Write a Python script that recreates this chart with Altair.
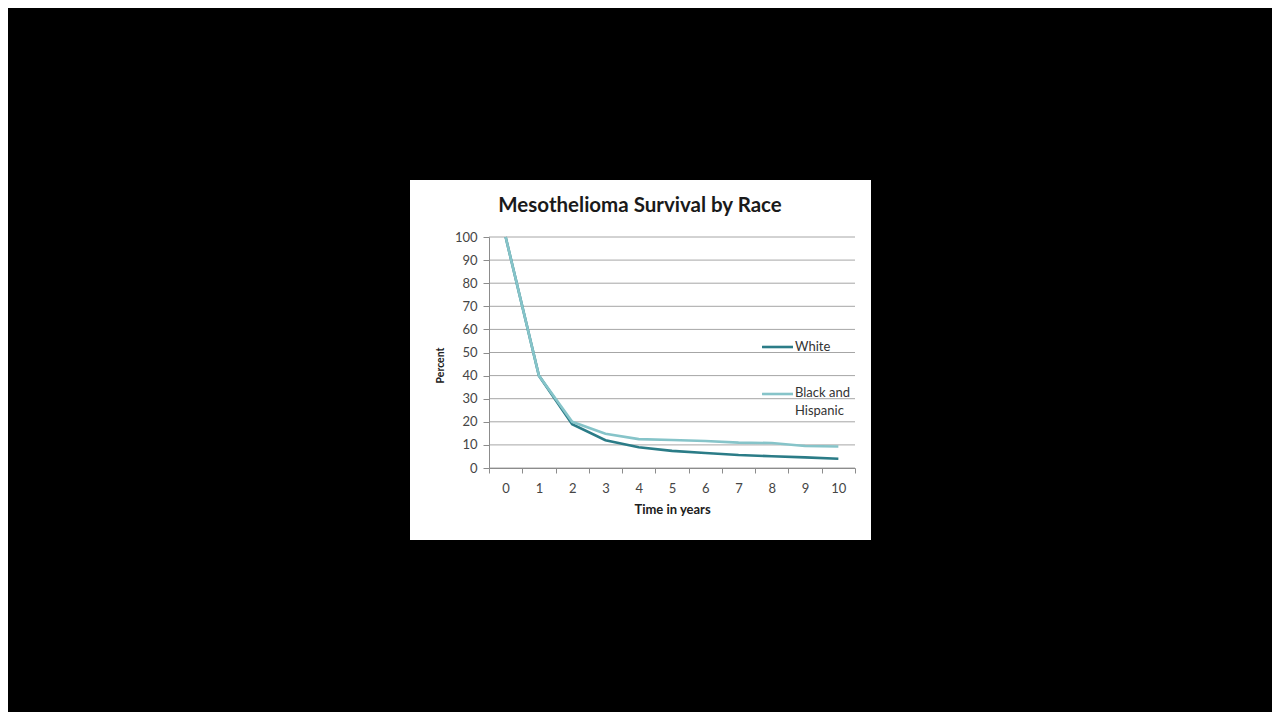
import altair as alt
import pandas as pd

years = list(range(11))
white = [100, 40, 19, 12, 9, 7.4, 6.5, 5.6, 5.1, 4.6, 4]
black_hispanic = [100, 40, 20, 14.8, 12.5, 12.1, 11.7, 11, 10.8, 9.5, 9.3]
series_names = ["White", "Black and Hispanic"]
series_colors = ["#2b7c87", "#86c4c9"]
grid_values = list(range(0, 101, 10))
title_text = "Mesothelioma Survival by Race"

FONT = "Lato"
W, H = 366, 231

df = pd.DataFrame({
    "year": years * 2,
    "pct": white + black_hispanic,
    "series": [series_names[0]] * len(years) + [series_names[1]] * len(years),
})
grid_df = pd.DataFrame({"pct": grid_values})
one = pd.DataFrame({"a": [0]})

yscale = alt.Scale(domain=[0, 100], nice=False)
xscale = alt.Scale(type="band", paddingInner=0, paddingOuter=0)
cscale = alt.Scale(domain=series_names, range=series_colors)

yaxis = alt.Axis(title="Percent", values=grid_values, tickSize=6,
                 domainColor="#8c8c8c", tickColor="#8c8c8c",
                 labelPadding=6, titlePadding=9, labelFontSize=13,
                 labelColor="#454545", titleFontSize=10.5, titleFontWeight="bold",
                 titleColor="#202020", labelFont=FONT, titleFont=FONT,
                 titleY=128, titleAlign="center",
                 grid=False, zindex=1)

card = alt.Chart(one).mark_rect(color="white").encode(
    x=alt.value(-79), x2=alt.value(382), y=alt.value(-57), y2=alt.value(303)
)

grid = alt.Chart(grid_df).mark_rule(color="#a6a6a6", strokeWidth=1).encode(
    y=alt.Y("pct:Q", scale=yscale, axis=yaxis),
    x=alt.value(0), x2=alt.value(W),
)

def line_layer(name):
    return alt.Chart(df).transform_filter(alt.datum.series == name).mark_line(
        strokeWidth=2.6
    ).encode(
        x=alt.X("year:O", scale=xscale, bandPosition=0.5, sort=years,
                axis=alt.Axis(title="Time in years", labelAngle=0, tickBand="extent",
                              domainColor="#8c8c8c", tickColor="#8c8c8c", tickSize=5,
                              labelPadding=9, titlePadding=8, labelFontSize=13,
                              labelColor="#454545", titleFontSize=13, titleFontWeight="bold",
                              titleColor="#202020", labelFont=FONT, titleFont=FONT,
                              grid=False, zindex=1)),
        y=alt.Y("pct:Q", scale=yscale, axis=yaxis),
        color=alt.Color("series:N", scale=cscale, legend=None),
    )

lines = [line_layer(series_names[0]), line_layer(series_names[1])]

title = alt.Chart(one).mark_text(
    text=title_text, font=FONT, fontSize=20.5, fontWeight="bold", color="#1a1a1a",
    align="center", baseline="middle"
).encode(x=alt.value(151), y=alt.value(-31))

leg_line1 = alt.Chart(one).mark_rule(color=series_colors[0], strokeWidth=2.6).encode(
    x=alt.value(273), x2=alt.value(304), y=alt.value(110))
leg_text1 = alt.Chart(one).mark_text(
    text=series_names[0], font=FONT, fontSize=13, color="#333333",
    align="left", baseline="middle").encode(x=alt.value(306), y=alt.value(110))
leg_line2 = alt.Chart(one).mark_rule(color=series_colors[1], strokeWidth=2.6).encode(
    x=alt.value(273), x2=alt.value(304), y=alt.value(157))
leg_text2 = alt.Chart(one).mark_text(
    text=["Black and", "Hispanic"], font=FONT, fontSize=13, color="#333333",
    lineHeight=18, align="left", baseline="top").encode(x=alt.value(306), y=alt.value(150))

chart = alt.layer(card, grid, *lines, title, leg_line1, leg_text1, leg_line2, leg_text2).properties(
    width=W, height=H,
    autosize=alt.AutoSizeParams(type="none"),
    padding={"left": 481, "top": 229, "right": 417, "bottom": 244},
    background="#000000",
).configure_view(stroke=None)

chart.save("out.html", embed_options={"renderer": "svg", "actions": False})
